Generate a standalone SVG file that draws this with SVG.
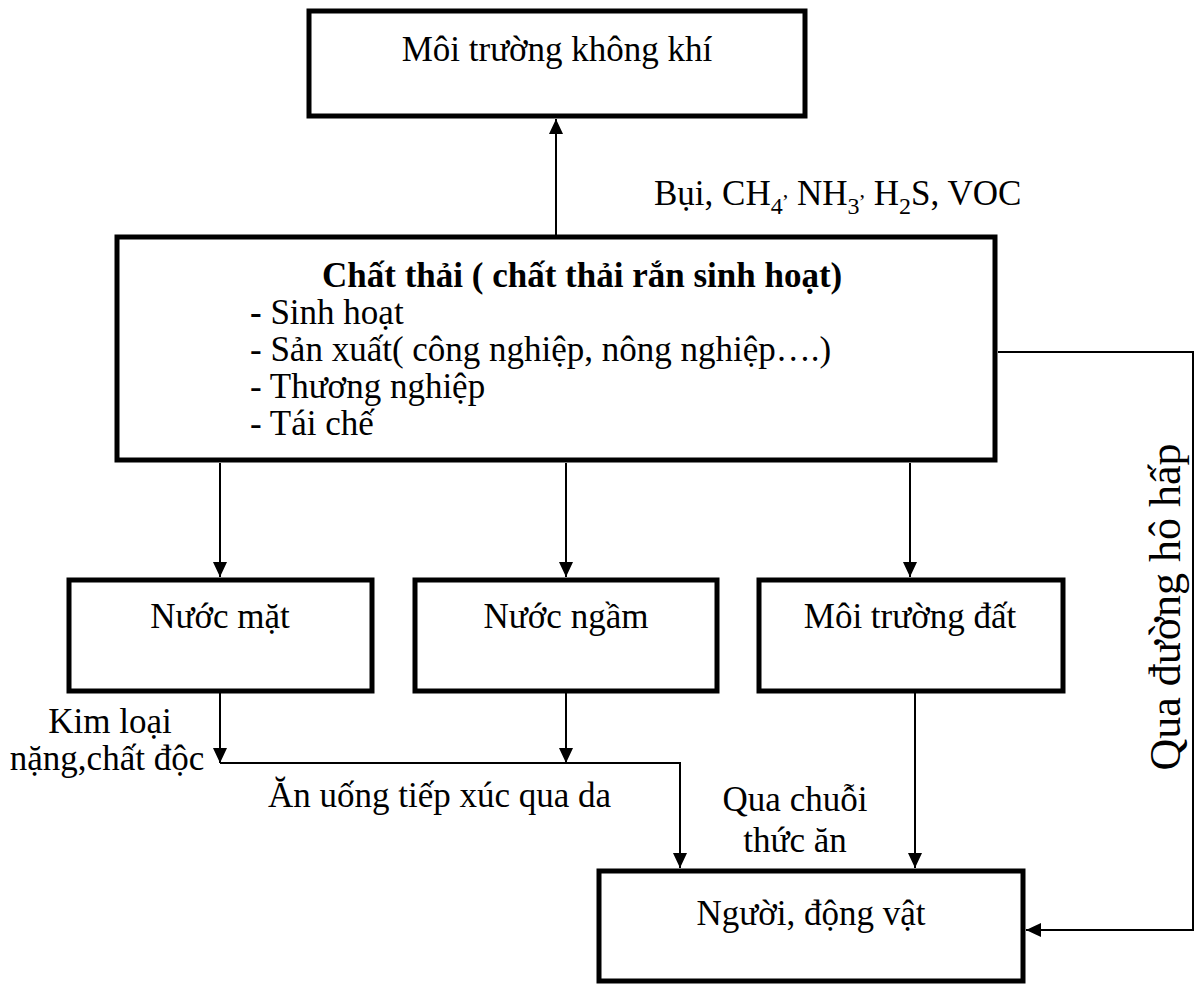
<svg xmlns="http://www.w3.org/2000/svg" width="1198" height="985" viewBox="0 0 1198 985">
  <style>
    .box { fill: #fff; stroke: #000; stroke-width: 5; }
    .wire { fill: none; stroke: #000; stroke-width: 2; }
    .t { font-family: "Liberation Serif", "Times New Roman", serif; font-size: 35px; fill: #000; }
    .c { text-anchor: middle; }
    .b { font-weight: bold; }
    .v { font-size: 44px; }
  </style>
  <defs>
    <marker id="arrow" markerWidth="16" markerHeight="16" refX="15" refY="7" orient="auto" markerUnits="userSpaceOnUse">
      <path d="M0,0 L15,7 L0,14 Z" fill="#000"/>
    </marker>
  </defs>

  <rect width="1198" height="985" fill="#fff"/>

  <!-- connectors and their labels -->
  <g id="connectors">
    <line class="wire" x1="556" y1="235" x2="556" y2="119" marker-end="url(#arrow)"/>
    <polyline class="wire" points="998,352 1193,352 1193,930 1026,930" marker-end="url(#arrow)"/>
    <line class="wire" x1="220" y1="463" x2="220" y2="577" marker-end="url(#arrow)"/>
    <line class="wire" x1="566" y1="463" x2="566" y2="577" marker-end="url(#arrow)"/>
    <line class="wire" x1="910" y1="463" x2="910" y2="577" marker-end="url(#arrow)"/>
    <line class="wire" x1="220" y1="693" x2="220" y2="763" marker-end="url(#arrow)"/>
    <line class="wire" x1="566" y1="693" x2="566" y2="763" marker-end="url(#arrow)"/>
    <polyline class="wire" points="220,763 680,763 680,868" marker-end="url(#arrow)"/>
    <line class="wire" x1="915" y1="693" x2="915" y2="868" marker-end="url(#arrow)"/>
    <text class="t" x="654" y="205">Bụi, CH<tspan font-size="24" dy="9">4</tspan><tspan font-size="22" dy="-17">,</tspan><tspan dy="8"> NH</tspan><tspan font-size="24" dy="9">3</tspan><tspan font-size="22" dy="-17">,</tspan><tspan dy="8"> H</tspan><tspan font-size="24" dy="9">2</tspan><tspan dy="-9">S, VOC</tspan></text>
    <text class="t c" x="110" y="733">Kim loại</text>
    <text class="t c" x="107" y="770">nặng,chất độc</text>
    <text class="t" x="268" y="807">Ăn uống tiếp xúc qua da</text>
    <text class="t c" x="795" y="811">Qua chuỗi</text>
    <text class="t c" x="795" y="852">thức ăn</text>
    <text class="t c v" transform="translate(1180,607) rotate(-90)">Qua đường hô hấp</text>
  </g>

  <g id="air">
    <rect class="box" x="309" y="11" width="496" height="105"/>
    <text class="t c" x="557" y="61">Môi trường không khí</text>
  </g>

  <g id="waste">
    <rect class="box" x="117" y="237" width="878" height="223"/>
    <text class="t b" x="322" y="287">Chất thải ( chất thải rắn sinh hoạt)</text>
    <text class="t" x="250" y="324"><tspan class="b">-</tspan> Sinh hoạt</text>
    <text class="t" x="250" y="361">- Sản xuất( công nghiệp, nông nghiệp….)</text>
    <text class="t" x="250" y="398">- Thương nghiệp</text>
    <text class="t" x="250" y="435">- Tái chế</text>
  </g>

  <g id="surface-water">
    <rect class="box" x="69" y="580" width="303" height="111"/>
    <text class="t c" x="220" y="628">Nước mặt</text>
  </g>

  <g id="groundwater">
    <rect class="box" x="415" y="580" width="302" height="111"/>
    <text class="t c" x="566" y="628">Nước ngầm</text>
  </g>

  <g id="soil">
    <rect class="box" x="759" y="580" width="304" height="111"/>
    <text class="t c" x="910" y="628">Môi trường đất</text>
  </g>

  <g id="people-animals">
    <rect class="box" x="599" y="871" width="424" height="110"/>
    <text class="t c" x="811" y="925">Người, động vật</text>
  </g>
</svg>
